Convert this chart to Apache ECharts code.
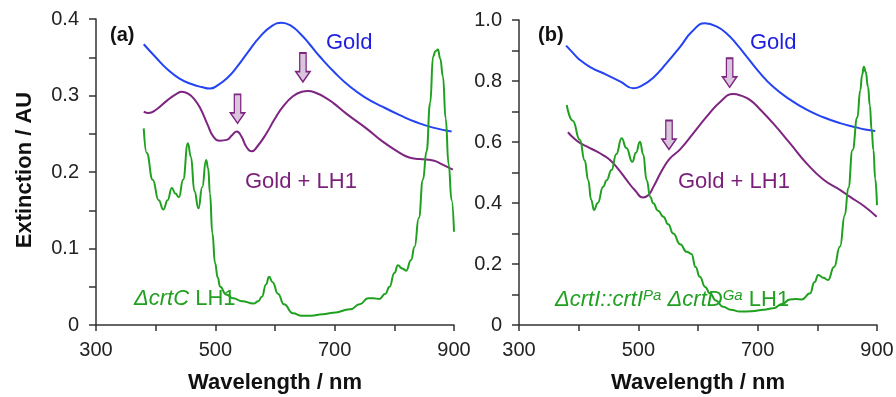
<!DOCTYPE html>
<html>
<head>
<meta charset="utf-8">
<script src="https://cdn.jsdelivr.net/npm/echarts@6/dist/echarts.min.js"></script>
<style>html,body{margin:0;padding:0;background:#fff}#c{width:896px;height:397px}</style>
</head>
<body>
<div id="c"></div>
<script>
// ---- Panel (a) data: [wavelength nm, extinction AU]
var aGold = [[380,0.367],[400,0.350],[420,0.334],[440,0.322],[460,0.315],[477,0.311],[491,0.309],[505,0.314],[520,0.323],[535,0.336],[555,0.357],[575,0.377],[595,0.391],[611,0.395],[627,0.391],[642,0.381],[658,0.367],[675,0.351],[700,0.330],[725,0.312],[750,0.298],[781,0.285],[810,0.274],[837,0.265],[865,0.258],[896,0.253]];
var aGoldLH1 = [[380,0.279],[388,0.277],[400,0.281],[420,0.294],[435,0.302],[444,0.305],[455,0.302],[465,0.295],[475,0.283],[487,0.262],[497,0.246],[508,0.241],[519,0.242],[528,0.248],[536,0.253],[544,0.246],[552,0.233],[561,0.227],[570,0.233],[586,0.251],[600,0.270],[614,0.286],[630,0.299],[645,0.305],[655,0.306],[670,0.303],[685,0.297],[698,0.290],[720,0.276],[753,0.257],[780,0.240],[809,0.225],[825,0.219],[842,0.217],[865,0.215],[880,0.210],[898,0.203]];
var aLH1 = [[380,0.257],[385,0.225],[395,0.19],[405,0.163],[413,0.151],[420,0.163],[427,0.179],[433,0.172],[439,0.167],[446,0.190],[454,0.2375],[459,0.22],[465,0.175],[471.7,0.1525],[478,0.18],[484.5,0.2157],[488,0.205],[491,0.172],[495,0.12],[499.6,0.0806],[504,0.062],[508,0.050],[518,0.040],[530,0.035],[545,0.031],[564,0.028],[572,0.031],[578,0.037],[585,0.053],[590,0.063],[596,0.056],[605,0.041],[615,0.027],[630,0.0153],[645,0.012],[660,0.0122],[680,0.014],[698,0.016],[726,0.0205],[742,0.027],[756,0.035],[765,0.035],[775,0.034],[785,0.041],[792,0.050],[800,0.068],[806,0.078],[813,0.074],[820,0.071],[828,0.085],[834,0.1024],[841,0.14],[848,0.19],[854,0.227],[860,0.29],[865,0.351],[869,0.358],[873,0.36],[877,0.348],[881.5,0.3246],[886,0.27],[891,0.21],[896,0.163],[900,0.122]];
var aArrows = [[646.8,0.3366],[537.2,0.2826]];

// ---- Panel (b) data
var bGold = [[379,0.916],[390,0.893],[402,0.869],[420,0.845],[447,0.820],[470,0.798],[491.6,0.776],[505,0.784],[525,0.811],[548,0.86],[570,0.912],[590,0.962],[611.7,0.989],[630,0.980],[648,0.956],[665,0.920],[681.6,0.880],[700,0.835],[726,0.781],[755,0.738],[782,0.706],[810,0.681],[838,0.662],[865,0.648],[880,0.641],[897,0.636]];
var bGoldLH1 = [[382,0.632],[392,0.612],[402,0.597],[415,0.584],[430,0.569],[440,0.558],[452.5,0.541],[466,0.512],[480.5,0.475],[495,0.440],[508,0.418],[517,0.426],[525,0.452],[540,0.508],[553,0.546],[570,0.576],[592,0.628],[614.5,0.683],[638,0.733],[659,0.757],[672,0.752],[687,0.738],[705,0.705],[726,0.661],[755,0.594],[782,0.530],[810,0.477],[838,0.443],[855,0.420],[878,0.390],[899.5,0.355]];
var bLH1 = [[380,0.721],[390,0.67],[402,0.607],[410,0.54],[416,0.475],[421,0.41],[425.7,0.377],[432,0.40],[441,0.453],[447,0.475],[455,0.508],[463,0.56],[472,0.612],[480,0.58],[490,0.535],[496,0.565],[502.8,0.601],[508,0.56],[514,0.475],[520,0.42],[525,0.399],[533,0.375],[542,0.355],[550,0.33],[558.6,0.30],[570,0.265],[581,0.24],[589,0.233],[596,0.19],[603,0.158],[612,0.125],[620,0.104],[630,0.08],[642,0.06],[655,0.05],[670,0.044],[690,0.045],[710,0.05],[726,0.055],[742,0.07],[754,0.084],[764,0.085],[774,0.084],[788,0.104],[795,0.14],[801.7,0.164],[810,0.155],[818,0.1475],[828,0.19],[838,0.257],[846,0.36],[852,0.45],[859,0.574],[867,0.68],[872,0.77],[875,0.82],[878,0.847],[881,0.83],[885,0.78],[888,0.72],[891,0.64],[894,0.574],[897,0.48],[900,0.393]];
var bArrows = [[653,0.827],[551.4,0.623]];

var xTicks = [300, 500, 700, 900];

var FONT = '"Liberation Sans", Arial, sans-serif';
var BLUE = '#2443f2', PURPLE = '#7d2580', GREEN = '#1fa01f';
var AXIS = '#333';

var chart = echarts.init(document.getElementById('c'), null, {renderer: 'canvas'});

function xAxis(gi) {
  return {
    type: 'value', gridIndex: gi, min: 300, max: 900, interval: 100,
    axisLine: {lineStyle: {color: AXIS, width: 1.5}},
    axisTick: {show: true, length: 6, lineStyle: {color: AXIS, width: 1.5}},
    splitLine: {show: false},
    axisLabel: {
      fontSize: 20, fontFamily: FONT, color: '#222', margin: 15,
      formatter: function (v) { return xTicks.indexOf(v) >= 0 ? String(v) : ''; }
    }
  };
}
function yAxis(gi, max, interval, step) {
  return {
    type: 'value', gridIndex: gi, min: 0, max: max, interval: interval,
    axisLine: {show: true, lineStyle: {color: AXIS, width: 1.5}},
    axisTick: {show: true, length: 7, lineStyle: {color: AXIS, width: 1.5}},
    splitLine: {show: false},
    axisLabel: {
      fontSize: 20, fontFamily: FONT, color: '#222', margin: 17,
      formatter: function (v) {
        var k = Math.round(v / step * 1000) / 1000;
        if (Math.abs(k - Math.round(k)) > 1e-6) return '';
        return v === 0 ? '0' : v.toFixed(1);
      }
    }
  };
}
function line(data, color, xi, yi, arrows, mono) {
  var s = {
    type: 'line', data: data, xAxisIndex: xi, yAxisIndex: yi,
    showSymbol: false, smooth: 0.5,
    lineStyle: {color: color, width: 2}, itemStyle: {color: color},
    silent: true, animation: false
  };
  if (mono) s.smoothMonotone = 'x';
  if (arrows) {
    s.markPoint = {
      symbol: 'path://M5.5,0 L14.5,0 L14.5,18 L20,18 L10,28 L0,18 L5.5,18 Z',
      symbolSize: [20, 29], symbolKeepAspect: true,
      itemStyle: {color: '#d9c5dc', borderColor: PURPLE, borderWidth: 1.5},
      label: {show: false},
      data: arrows.map(function (c) { return {coord: c}; })
    };
  }
  return s;
}

var option = {
  animation: false,
  grid: [
    {left: 96, right: 442, top: 19, bottom: 72, containLabel: false, outerBoundsMode: 'none'},
    {left: 519, right: 19, top: 20, bottom: 72, containLabel: false, outerBoundsMode: 'none'}
  ],
  xAxis: [xAxis(0), xAxis(1)],
  yAxis: [yAxis(0, 0.4, 0.05, 0.1), yAxis(1, 1.0, 0.1, 0.2)],
  series: [
    line(aGold, BLUE, 0, 0),
    line(aGoldLH1, PURPLE, 0, 0, aArrows),
    line(aLH1, GREEN, 0, 0, null, true),
    line(bGold, BLUE, 1, 1),
    line(bGoldLH1, PURPLE, 1, 1, bArrows),
    line(bLH1, GREEN, 1, 1, null, true)
  ],
  graphic: [
    {type: 'text', x: 25, y: 170, rotation: Math.PI / 2, silent: true,
     style: {text: 'Extinction / AU', font: 'bold 22px ' + FONT, fill: '#111', align: 'center', verticalAlign: 'middle'}},
    {type: 'text', x: 275, y: 383, silent: true,
     style: {text: 'Wavelength / nm', font: 'bold 22px ' + FONT, fill: '#111', align: 'center', verticalAlign: 'middle'}},
    {type: 'text', x: 698, y: 383, silent: true,
     style: {text: 'Wavelength / nm', font: 'bold 22px ' + FONT, fill: '#111', align: 'center', verticalAlign: 'middle'}},
    {type: 'text', x: 110, y: 35, silent: true,
     style: {text: '(a)', font: 'bold 20px ' + FONT, fill: '#111', align: 'left', verticalAlign: 'middle'}},
    {type: 'text', x: 538, y: 35, silent: true,
     style: {text: '(b)', font: 'bold 20px ' + FONT, fill: '#111', align: 'left', verticalAlign: 'middle'}},
    {type: 'text', x: 326, y: 43, silent: true,
     style: {text: 'Gold', font: '22px ' + FONT, fill: '#1f1fe0', align: 'left', verticalAlign: 'middle'}},
    {type: 'text', x: 750, y: 43, silent: true,
     style: {text: 'Gold', font: '22px ' + FONT, fill: '#1f1fe0', align: 'left', verticalAlign: 'middle'}},
    {type: 'text', x: 245, y: 182, silent: true,
     style: {text: 'Gold + LH1', font: '22px ' + FONT, fill: '#7a1f7a', align: 'left', verticalAlign: 'middle'}},
    {type: 'text', x: 678, y: 182, silent: true,
     style: {text: 'Gold + LH1', font: '22px ' + FONT, fill: '#7a1f7a', align: 'left', verticalAlign: 'middle'}},
    {type: 'text', x: 134, y: 299, silent: true,
     style: {
       text: '{i|\u0394crtC}{n| LH1}', align: 'left', verticalAlign: 'middle', fill: '#22a022',
       rich: {
         i: {fontStyle: 'italic', fontSize: 22, fontFamily: FONT, fill: '#22a022'},
         n: {fontSize: 22, fontFamily: FONT, fill: '#22a022'}
       }
     }},
    {type: 'text', x: 555, y: 300, silent: true,
     style: {
       text: '{i|\u0394crtI::crtI}{s|Pa}{i| \u0394crtD}{s|Ga}{n| LH1}', align: 'left', verticalAlign: 'middle', fill: '#22a022',
       rich: {
         i: {fontStyle: 'italic', fontSize: 22, fontFamily: FONT, fill: '#22a022', lineHeight: 24},
         s: {fontStyle: 'italic', fontSize: 15, fontFamily: FONT, fill: '#22a022', verticalAlign: 'top', lineHeight: 15},
         n: {fontSize: 22, fontFamily: FONT, fill: '#22a022', lineHeight: 24}
       }
     }}
  ]
};
chart.setOption(option);
</script>
</body>
</html>
